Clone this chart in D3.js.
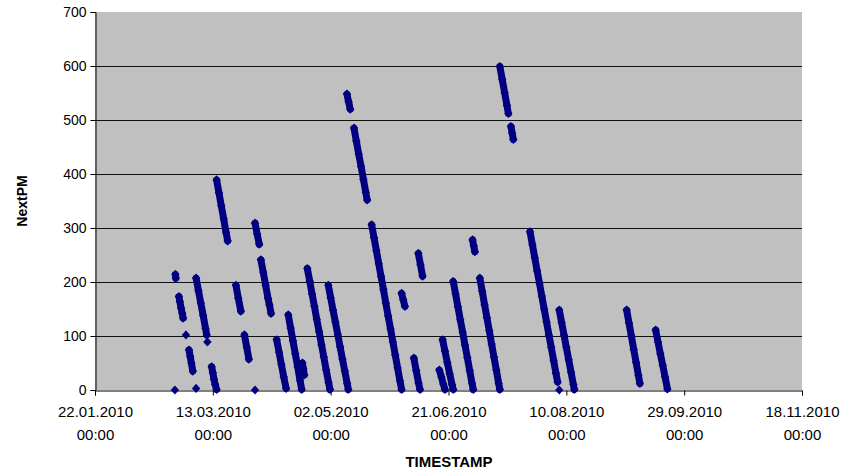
<!DOCTYPE html>
<html>
<head>
<meta charset="utf-8">
<script src="https://cdn.jsdelivr.net/npm/d3@7/dist/d3.min.js"></script>
<style>
  html, body { margin: 0; padding: 0; background: #fff; }
  svg { display: block; }
  text { font-family: "Liberation Sans", Arial, sans-serif; fill: #000; }
</style>
</head>
<body>
<svg id="chart" width="842" height="470"></svg>
<script>
// Time axis: readings are stored as days after 22.01.2010 00:00
const baseDate = "22.01.2010";
const xTickLabels = ["22.01.2010", "13.03.2010", "02.05.2010", "21.06.2010",
                     "10.08.2010", "29.09.2010", "18.11.2010"];
const yTicks = [0, 100, 200, 300, 400, 500, 600, 700];

// NextPM readings, grouped into countdown runs: [day, NextPM]
const runs = [
  [[33.9, 0]],
  [[34.1, 214], [34.3, 207]],
  [[35.6, 173], [36.0, 164], [36.5, 152], [37.0, 142], [37.4, 133]],
  [[38.6, 102]],
  [[39.9, 74], [40.4, 62], [40.9, 50], [41.5, 35]],
  [[42.9, 3]],
  [[42.9, 207], [43.9, 184], [44.9, 161], [45.9, 138], [46.9, 114], [47.4, 102]],
  [[47.7, 89]],
  [[49.5, 43], [50.0, 32], [50.5, 20], [51.0, 10], [51.6, 1]],
  [[51.6, 389], [52.6, 365], [53.6, 341], [54.6, 317], [55.6, 292], [56.3, 276]],
  [[59.8, 194], [60.8, 170], [61.9, 146]],
  [[63.4, 102], [64.4, 79], [65.3, 57]],
  [[67.9, 0]],
  [[67.9, 309], [68.8, 289], [69.7, 270]],
  [[70.4, 241], [71.4, 218], [72.4, 194], [73.4, 170], [74.0, 158], [74.7, 142]],
  [[77.1, 93], [78.1, 70], [79.1, 47], [80.1, 24], [81.1, 3]],
  [[82.0, 139], [83.0, 115], [84.0, 91], [85.0, 67], [86.0, 43], [87.0, 18], [87.7, 1]],
  [[88.0, 50], [88.4, 40], [88.8, 28]],
  [[90.1, 225], [91.1, 202], [92.1, 178], [93.1, 155], [94.1, 131], [95.1, 108],
   [96.1, 84], [97.1, 61], [98.1, 37], [99.1, 14], [99.7, 1]],
  [[99.0, 194], [100.0, 171], [101.0, 148], [102.0, 126], [103.0, 103], [104.0, 80],
   [105.0, 57], [106.0, 35], [107.0, 12], [107.5, 1]],
  [[106.9, 548], [107.6, 534], [108.3, 520]],
  [[109.9, 485], [110.9, 461], [111.9, 437], [112.9, 414], [113.9, 390], [114.9, 366], [115.5, 352]],
  [[117.4, 306], [118.4, 282], [119.4, 258], [120.4, 234], [121.4, 210], [122.4, 186],
   [123.4, 161], [124.4, 137], [125.4, 113], [126.4, 89], [127.4, 65], [128.4, 41],
   [129.4, 17], [130.1, 1]],
  [[130.1, 179], [130.8, 167], [131.5, 155]],
  [[135.3, 59], [136.3, 36], [137.3, 13], [137.9, 1]],
  [[137.2, 253], [138.1, 232], [139.0, 211]],
  [[146.1, 37], [147.0, 24], [147.8, 11], [148.5, 1]],
  [[147.5, 93], [148.5, 72], [149.5, 51], [150.5, 30], [151.5, 10], [152.0, 1]],
  [[152.0, 201], [153.0, 178], [154.0, 154], [155.0, 130], [156.0, 107], [157.0, 83],
   [158.0, 60], [159.0, 36], [160.0, 12], [160.5, 1]],
  [[160.2, 278], [160.7, 267], [161.2, 256]],
  [[163.3, 207], [164.3, 183], [165.3, 158], [166.3, 134], [167.3, 110], [168.3, 85],
   [169.3, 61], [170.3, 37], [171.3, 12], [171.8, 1]],
  [[171.8, 599], [172.8, 575], [173.8, 551], [174.8, 527], [175.4, 512]],
  [[176.5, 488], [177.0, 476], [177.5, 464]],
  [[184.6, 293], [185.6, 269], [186.6, 245], [187.6, 221], [188.6, 198], [189.6, 174],
   [190.6, 150], [191.6, 126], [192.6, 102], [193.6, 79], [194.6, 55], [195.6, 31], [196.3, 15]],
  [[197.0, 0]],
  [[197.0, 148], [198.0, 125], [199.0, 102], [200.0, 79], [201.0, 56], [202.0, 33],
   [203.0, 10], [203.4, 1]],
  [[225.6, 148], [226.6, 124], [227.6, 100], [228.6, 75], [229.6, 51], [230.6, 27], [231.2, 12]],
  [[237.9, 111], [238.9, 89], [239.9, 67], [240.9, 46], [241.9, 24], [242.9, 2]]
];

const parseDay = d3.utcParse("%d.%m.%Y");
const origin = parseDay(baseDate);
const toDate = day => new Date(origin.getTime() + day * 864e5);

const plot = { left: 95, right: 802, top: 12, bottom: 390 };
const markColor = "#000080";

const svg = d3.select("#chart");

const x = d3.scaleUtc()
  .domain([parseDay(xTickLabels[0]), parseDay(xTickLabels[xTickLabels.length - 1])])
  .range([plot.left, plot.right]);
const y = d3.scaleLinear()
  .domain([0, 700])
  .range([plot.bottom, plot.top]);

// Plot area
svg.append("rect")
  .attr("x", plot.left).attr("y", plot.top)
  .attr("width", plot.right - plot.left).attr("height", plot.bottom - plot.top)
  .attr("fill", "#c0c0c0");

// Horizontal gridlines
svg.append("g")
  .selectAll("line")
  .data(yTicks.filter(v => v > 0 && v < 700))
  .join("line")
  .attr("x1", plot.left).attr("x2", plot.right)
  .attr("y1", d => Math.round(y(d)) + 0.5).attr("y2", d => Math.round(y(d)) + 0.5)
  .attr("stroke", "#111").attr("stroke-width", 1);

// Y axis
const yAxis = svg.append("g")
  .attr("transform", `translate(${plot.left + 0.5},0)`)
  .call(d3.axisLeft(y).tickValues(yTicks).tickSize(5).tickPadding(4).tickFormat(d3.format("d")));
yAxis.select(".domain").attr("stroke", "#000");
yAxis.selectAll(".tick line").attr("stroke", "#000");
yAxis.selectAll("text")
  .style("font-family", '"Liberation Sans", Arial, sans-serif')
  .style("font-size", "14px")
  .attr("fill", "#000");

// X axis with two-line labels (date / time)
const xAxis = svg.append("g")
  .attr("transform", `translate(0,${plot.bottom + 0.5})`)
  .call(d3.axisBottom(x).tickValues(xTickLabels.map(parseDay)).tickSize(5).tickFormat(""));
xAxis.select(".domain").attr("stroke", "#000");
xAxis.selectAll(".tick line").attr("stroke", "#000");
xAxis.selectAll(".tick").each(function(d, i) {
  const t = d3.select(this).append("text")
    .attr("text-anchor", "middle")
    .style("font-family", '"Liberation Sans", Arial, sans-serif')
    .style("font-size", "15px")
    .attr("fill", "#000");
  t.append("tspan").attr("x", 0).attr("y", 26).text(xTickLabels[i]);
  t.append("tspan").attr("x", 0).attr("y", 49).text("00:00");
});

// Axis titles
svg.append("text")
  .attr("x", 449).attr("y", 467)
  .attr("text-anchor", "middle")
  .style("font-size", "15px").style("font-weight", "bold")
  .text("TIMESTAMP");
svg.append("text")
  .attr("transform", `translate(27,${(plot.top + plot.bottom) / 2}) rotate(-90)`)
  .attr("text-anchor", "middle")
  .style("font-size", "14px").style("font-weight", "bold")
  .text("NextPM");

// Countdown traces: consecutive readings of a run
const trace = d3.line()
  .x(d => x(toDate(d[0])))
  .y(d => y(d[1]));
svg.append("g")
  .selectAll("path")
  .data(runs.filter(r => r.length > 1))
  .join("path")
  .attr("d", trace)
  .attr("fill", "none")
  .attr("stroke", markColor)
  .attr("stroke-width", 7)
  .attr("stroke-linecap", "round");

// Diamond markers
const diamond = {
  draw(ctx) {
    ctx.moveTo(0, -4.6);
    ctx.lineTo(4.2, 0);
    ctx.lineTo(0, 4.6);
    ctx.lineTo(-4.2, 0);
    ctx.closePath();
  }
};
const symbolPath = d3.symbol().type(diamond)();
svg.append("g")
  .selectAll("path")
  .data(runs.flat())
  .join("path")
  .attr("transform", d => `translate(${x(toDate(d[0]))},${y(d[1])})`)
  .attr("d", symbolPath)
  .attr("fill", markColor);
</script>
</body>
</html>
